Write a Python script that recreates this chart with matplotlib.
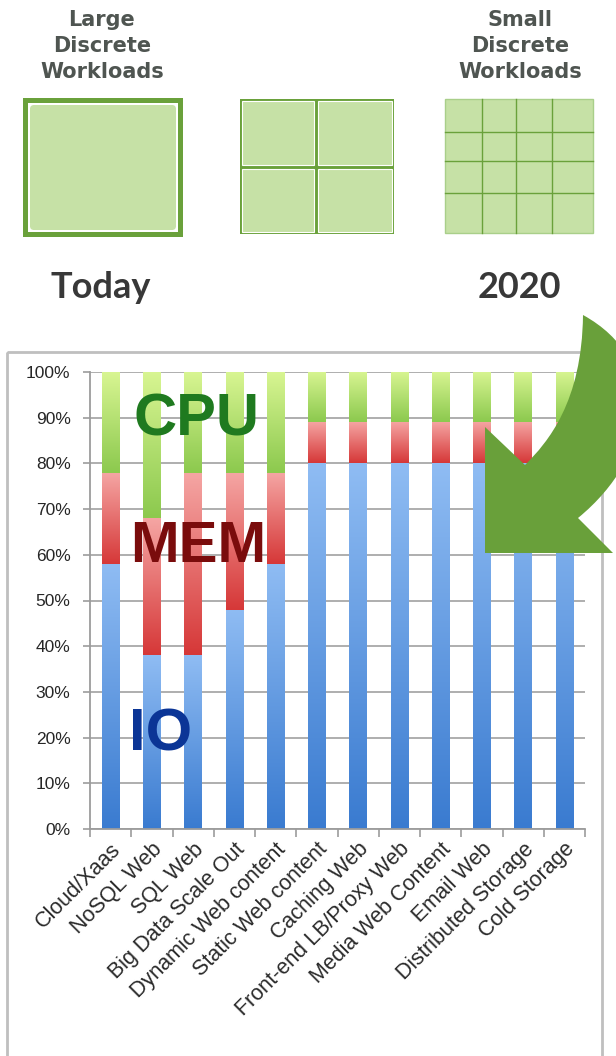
import numpy as np
import matplotlib
matplotlib.use('Agg')
import matplotlib.pyplot as plt
from matplotlib.patches import Rectangle, FancyBboxPatch, PathPatch
from matplotlib.path import Path
from matplotlib.colors import LinearSegmentedColormap

# workload mix, percent of resources per workload type
categories = ['Cloud/Xaas', 'NoSQL Web', 'SQL Web', 'Big Data Scale Out',
              'Dynamic Web content', 'Static Web content', 'Caching Web',
              'Front-end LB/Proxy Web', 'Media Web Content', 'Email Web',
              'Distributed Storage', 'Cold Storage']
io_share = [58, 38, 38, 48, 58, 80, 80, 80, 80, 80, 80, 80]
mem_share = [20, 30, 40, 30, 20, 9, 9, 9, 9, 9, 9, 9]
cpu_share = [22, 32, 22, 22, 22, 11, 11, 11, 11, 11, 11, 11]
y_ticks = [0, 10, 20, 30, 40, 50, 60, 70, 80, 90, 100]
tick_labels = ['%d%%' % v for v in y_ticks]

GREEN = '#6aa13b'
LIGHT = '#c6e1a6'

fig = plt.figure(figsize=(6.16, 10.56), dpi=100)

# ---- chart ----
ax = fig.add_axes([90/616, 1-829/1056, 495/616, 457/1056], zorder=2)
x = np.arange(len(categories))
w = 0.42
io_bars = ax.bar(x, io_share, width=w, color='none')
mem_bars = ax.bar(x, mem_share, width=w, bottom=io_share, color='none')
cpu_bars = ax.bar(x, cpu_share, width=w, bottom=np.add(io_share, mem_share), color='none')


def shade(bars, bottom_c, top_c):
    cmap = LinearSegmentedColormap.from_list('g', [bottom_c, top_c])
    grad = np.linspace(0, 1, 128).reshape(-1, 1)
    for b in bars:
        x0, y0 = b.get_xy()
        ax.imshow(grad, cmap=cmap, origin='lower', aspect='auto',
                  interpolation='bilinear', zorder=2,
                  extent=(x0, x0 + b.get_width(), y0, y0 + b.get_height()))


shade(io_bars, '#3a7bd0', '#8fbcf3')
shade(mem_bars, '#d63838', '#f5a6a4')
shade(cpu_bars, '#8cc94e', '#d8f592')

ax.set_xlim(-0.5, len(categories) - 0.5)
ax.set_ylim(0, 100)
ax.set_yticks(y_ticks)
ax.set_yticklabels(tick_labels)
ax.yaxis.grid(True, color='#a8a8a8', lw=1.3)
ax.set_axisbelow(True)
for s in ['top', 'right']:
    ax.spines[s].set_visible(False)
for s in ['left', 'bottom']:
    ax.spines[s].set_color('#9c9c9c')
    ax.spines[s].set_linewidth(1.3)
ax.set_xticks(x)
ax.set_xticklabels(categories, rotation=45, ha='right', rotation_mode='anchor',
                   fontfamily='Liberation Sans', fontsize=15.5, color='#2a2a2a')
ax.set_xticks(np.arange(-0.5, len(categories)), minor=True)
ax.tick_params(axis='x', which='major', length=0, pad=7)
ax.tick_params(axis='x', which='minor', length=6, width=1.2, color='#9c9c9c')
ax.tick_params(axis='y', length=5, width=1.2, color='#9c9c9c', pad=9,
               labelsize=12.5, labelcolor='#262626')
for t in ax.get_yticklabels():
    t.set_fontfamily('Liberation Sans')

ax.text(2.07, 89.5, 'CPU', color='#1f7a1f', fontsize=43, fontweight='bold',
        fontfamily='Liberation Sans', ha='center', va='center', zorder=5)
ax.text(2.12, 61.7, 'MEM', color='#7a0c0c', fontsize=42, fontweight='bold',
        fontfamily='Liberation Sans', ha='center', va='center', zorder=5)
ax.text(1.2, 20.6, 'IO', color='#0b3596', fontsize=43, fontweight='bold',
        fontfamily='Liberation Sans', ha='center', va='center', zorder=5)

# ---- overlay in pixel coordinates ----
ov = fig.add_axes([0, 0, 1, 1], zorder=3)
ov.set_xlim(0, 616)
ov.set_ylim(1056, 0)
ov.axis('off')
ov.patch.set_alpha(0)

# chart frame
ov.add_patch(Rectangle((7, 352), 595, 760, fc='none', ec='#bfbfbf', lw=2))

# one big workload
ov.add_patch(Rectangle((23, 98), 160, 139, fc=GREEN, ec='none'))
ov.add_patch(Rectangle((28, 103), 150, 129, fc='white', ec='none'))
ov.add_patch(FancyBboxPatch((30, 105), 146, 125, boxstyle='round,pad=0,rounding_size=4',
                            fc=LIGHT, ec='none'))

# four medium workloads
ov.add_patch(Rectangle((240, 99), 154, 135, fc=GREEN, ec='none'))
for cx in [(240, 316), (316, 394)]:
    for cy in [(99, 167), (167, 234)]:
        ov.add_patch(Rectangle((cx[0] + 2, cy[0] + 2), cx[1] - cx[0] - 4, cy[1] - cy[0] - 4,
                               fc=LIGHT, ec='white', lw=0.8))

# sixteen small workloads
ov.add_patch(Rectangle((445, 99), 148, 134, fc=LIGHT, ec='#a9cf8a', lw=1))
for vx in [482, 516, 552]:
    ov.plot([vx, vx], [99, 233], color=GREEN, lw=1.0)
for hy in [132, 161, 193]:
    ov.plot([445, 593], [hy, hy], color=GREEN, lw=1.0)

for cx, lines in [(102, ['Large', 'Discrete', 'Workloads']),
                  (520, ['Small', 'Discrete', 'Workloads'])]:
    for yy, s in zip([20, 46, 72], lines):
        ov.text(cx, yy, s, ha='center', va='center', fontsize=15, fontweight='bold',
                fontfamily='DejaVu Sans', color='#4f5551')

ov.text(101, 287, 'Today', ha='center', va='center', fontsize=26, fontweight='bold',
        fontfamily='Lato', color='#383838')
ov.text(519, 287, '2020', ha='center', va='center', fontsize=26, fontweight='bold',
        fontfamily='Lato', color='#383838')

# curved arrow
verts = [(583, 315), (665, 360), (655, 455), (578, 518),
         (613, 553), (485, 553), (485, 427), (525, 465),
         (548, 442), (582, 402), (583, 315), (583, 315)]
codes = [Path.MOVETO, Path.CURVE4, Path.CURVE4, Path.CURVE4,
         Path.LINETO, Path.LINETO, Path.LINETO, Path.LINETO,
         Path.CURVE4, Path.CURVE4, Path.CURVE4, Path.CLOSEPOLY]
ov.add_patch(PathPatch(Path(verts, codes), fc='#69a03a', ec='none'))

fig.savefig('out.png', dpi=100)
